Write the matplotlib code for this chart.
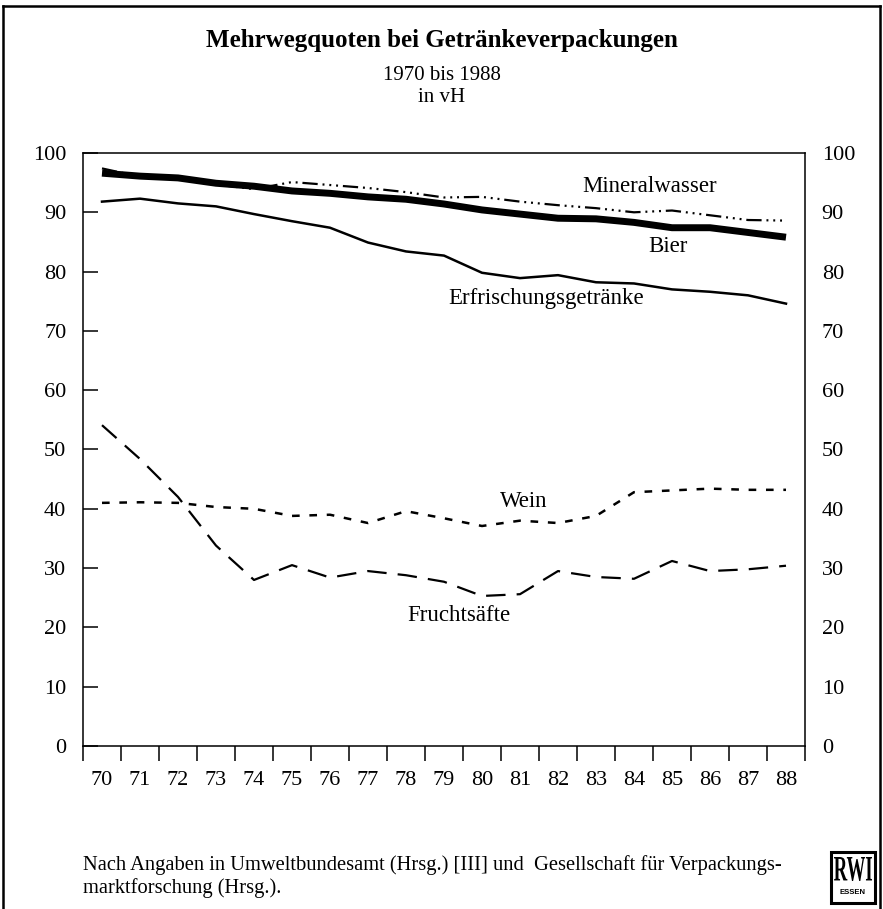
import matplotlib
matplotlib.use("Agg")
import matplotlib.pyplot as plt
from matplotlib.patches import Rectangle, PathPatch
from matplotlib.lines import Line2D
from matplotlib.ticker import FixedLocator
from matplotlib.textpath import TextPath
from matplotlib.font_manager import FontProperties
from matplotlib.transforms import Affine2D

plt.rcParams['font.family'] = ['Liberation Serif', 'DejaVu Serif']
plt.rcParams['lines.scale_dashes'] = False

years = list(range(70, 89))
bier = [96.6, 96.1, 95.8, 94.9, 94.4, 93.6, 93.2, 92.6, 92.2, 91.4, 90.4, 89.7, 89.0, 88.9, 88.3, 87.4, 87.4, 86.6, 85.8]
mineralwasser = [97.4, 96.0, 95.6, 94.7, 93.9, 95.1, 94.6, 94.1, 93.4, 92.5, 92.6, 91.8, 91.2, 90.7, 90.0, 90.3, 89.5, 88.7, 88.6]
erfrischung = [91.8, 92.3, 91.5, 91.0, 89.7, 88.5, 87.4, 84.9, 83.4, 82.7, 79.8, 78.9, 79.4, 78.2, 78.0, 77.0, 76.6, 76.0, 74.6]
wein = [41.0, 41.1, 41.0, 40.3, 40.0, 38.8, 39.0, 37.6, 39.6, 38.4, 37.1, 38.0, 37.6, 38.8, 42.8, 43.1, 43.4, 43.2, 43.2]
fruchtsaefte = [54.1, 48.4, 42.0, 33.8, 28.0, 30.5, 28.4, 29.5, 28.8, 27.7, 25.3, 25.6, 29.5, 28.5, 28.2, 31.2, 29.5, 29.8, 30.4]

yticks = [0, 10, 20, 30, 40, 50, 60, 70, 80, 90, 100]
xlabels = [str(y) for y in years]

W, H = 883, 909
fig = plt.figure(figsize=(W / 100, H / 100), dpi=100)
ax = fig.add_axes([83 / W, 1 - 746 / H, (805 - 83) / W, (746 - 153) / H])

ax.plot(years, bier, color='black', lw=5.0, solid_capstyle='butt', zorder=3)
ax.plot(years, mineralwasser, color='black', lw=1.6,
        linestyle=(0, (11, 3.5, 1.4, 3.5, 1.4, 3.5, 1.4, 3.5)), zorder=2)
ax.plot(years, erfrischung, color='black', lw=1.8, zorder=2)
ax.plot(years, wein, color='black', lw=1.8, linestyle=(0, (5.5, 7)), zorder=2)
ax.plot(years, fruchtsaefte, color='black', lw=1.6, linestyle=(0, (14, 8)), zorder=2)

ax.set_xlim(69.5, 88.5)
ax.set_ylim(0, 100)

# x axis: labels at years, ticks between years
ax.set_xticks(years)
ax.set_xticklabels(xlabels)
ax.xaxis.set_minor_locator(FixedLocator([y - 0.5 for y in years] + [years[-1] + 0.5]))
ax.tick_params(axis='x', which='major', length=0, pad=18, labelsize=16)
ax.tick_params(axis='x', which='minor', length=11, width=1.1, direction='out')

ax.set_yticks(yticks)
ax.set_yticklabels([str(v) for v in yticks])
ax.tick_params(axis='y', which='major', direction='in', length=11, width=1.1,
               pad=12, labelsize=16, left=True, right=False,
               labelleft=True, labelright=True)

for s in ax.spines.values():
    s.set_linewidth(1.1)

# line labels
lab_kw = dict(fontsize=16.5, ha='center', va='center', color='black')
ax.text(84.4, 94.3, 'Mineralwasser', **lab_kw)
ax.text(84.9, 84.3, 'Bier', **lab_kw)
ax.text(81.7, 75.4, 'Erfrischungsgetränke', **lab_kw)
ax.text(81.1, 41.3, 'Wein', **lab_kw)
ax.text(79.4, 22.0, 'Fruchtsäfte', **lab_kw)

# titles
fig.text(0.5, 1 - 40 / H, 'Mehrwegquoten bei Getränkeverpackungen',
         ha='center', va='center', fontsize=18, fontweight='bold')
fig.text(0.5, 1 - 76 / H, '1970 bis 1988', ha='center', va='center', fontsize=15)
fig.text(0.5, 1 - 97 / H, 'in vH', ha='center', va='center', fontsize=15)

# footnote
fig.text(83 / W, 1 - 865 / H,
         'Nach Angaben in Umweltbundesamt (Hrsg.) [III] und  Gesellschaft für Verpackungs-',
         ha='left', va='center', fontsize=14.8)
fig.text(83 / W, 1 - 888 / H, 'marktforschung (Hrsg.).', ha='left', va='center', fontsize=14.8)

# RWI logo
fig.patches.append(Rectangle((831 / W, 1 - 903 / H), 44 / W, 51 / H,
                             transform=fig.transFigure, fill=False,
                             edgecolor='black', lw=2.2))
tp = TextPath((0, 0), 'RWI', size=10,
              prop=FontProperties(family='Liberation Serif', weight='bold'))
ext = tp.get_extents()
tw, th = 38.0, 24.0   # target pixel size
x0, y0 = 834.0, H - 881.0
tr = (Affine2D().translate(-ext.x0, -ext.y0)
      .scale(tw / ext.width, th / ext.height)
      .translate(x0, y0)
      .scale(1 / W, 1 / H))
fig.patches.append(PathPatch(tr.transform_path(tp), transform=fig.transFigure,
                             facecolor='black', edgecolor='none'))
fig.text(853 / W, 1 - 893 / H, 'ESSEN', ha='center', va='center', fontsize=5.5,
         fontweight='bold', family='Liberation Sans')

# outer frame (left, top, right)
fig.add_artist(Line2D([3.5 / W, 3.5 / W], [0, 1 - 6 / H], transform=fig.transFigure,
                      color='black', lw=1.8))
fig.add_artist(Line2D([3.5 / W, 880 / W], [1 - 6 / H, 1 - 6 / H], transform=fig.transFigure,
                      color='black', lw=1.8))
fig.add_artist(Line2D([880 / W, 880 / W], [0, 1 - 6 / H], transform=fig.transFigure,
                      color='black', lw=1.8))

fig.savefig('out.png', dpi=100)
